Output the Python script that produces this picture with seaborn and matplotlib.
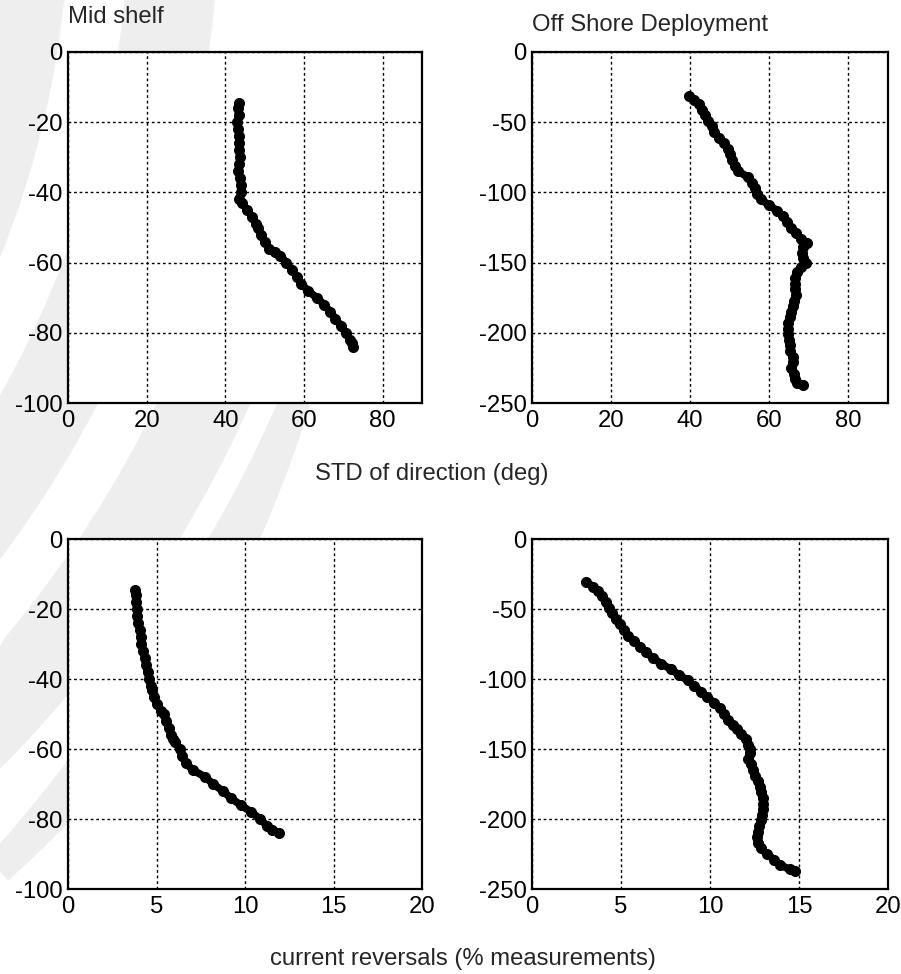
import numpy as np
import pandas as pd
import matplotlib
matplotlib.use("Agg")
import matplotlib.pyplot as plt
from matplotlib.patches import Polygon
import seaborn as sns

# ---------------- data ----------------
mid_depth = [-14.5, -16, -18, -20, -22, -24, -26, -28, -30, -32, -34, -36, -38, -40,
             -42, -43, -45, -47, -49, -50, -52, -54, -56, -57, -58, -60, -62, -64,
             -66, -68, -70, -72, -74, -76, -78, -80, -82, -83, -84]
mid_std = [43.6, 43.2, 43.4, 43.0, 43.3, 43.4, 43.5, 43.4, 43.8, 43.6, 43.2, 43.8, 43.9, 44.0,
           43.6, 44.2, 45.6, 46.8, 47.8, 48.4, 49.0, 50.0, 51.2, 52.5, 54.0, 55.5, 57.0, 58.2,
           59.3, 61.0, 63.2, 65.2, 66.6, 68.0, 69.4, 70.6, 71.8, 72.3, 72.5]
mid_rev = [3.80, 3.82, 3.86, 3.88, 3.90, 3.95, 4.07, 4.10, 4.15, 4.25, 4.33, 4.40, 4.50, 4.57,
           4.68, 4.72, 4.85, 5.00, 5.25, 5.40, 5.55, 5.70, 5.83, 5.95, 6.05, 6.30, 6.45, 6.65,
           7.05, 7.75, 8.20, 8.75, 9.20, 9.75, 10.35, 10.85, 11.25, 11.50, 11.90]

off_depth = [-31, -34, -37, -41, -45, -49, -53, -57, -61, -65, -69, -73, -77, -81, -85,
             -89, -93, -97, -101, -105, -109, -113, -117, -121, -125, -129, -133, -136,
             -139, -143, -147, -150, -153, -157, -161, -165, -169, -173, -177, -181, -185,
             -189, -193, -197, -201, -205, -209, -213, -217, -221, -225, -229, -233, -236, -237]
off_std = [39.8, 41.0, 42.3, 43.0, 43.8, 44.6, 45.4, 46.0, 47.4, 48.5, 49.5, 50.0, 50.6, 51.2, 52.2,
           54.5, 55.6, 56.5, 57.0, 58.0, 59.8, 62.0, 63.5, 64.4, 65.4, 66.8, 68.0, 69.5,
           68.6, 68.3, 68.6, 69.2, 68.0, 67.0, 66.5, 66.4, 66.6, 66.7, 66.2, 66.0, 65.6,
           65.2, 64.8, 64.6, 64.8, 65.0, 65.1, 65.2, 66.0, 65.9, 65.6, 66.2, 66.6, 67.0, 68.5]
off_rev = [3.05, 3.45, 3.70, 3.95, 4.15, 4.35, 4.52, 4.72, 4.94, 5.15, 5.40, 5.75, 6.05, 6.40, 6.80,
           7.25, 7.80, 8.25, 8.75, 9.10, 9.50, 9.85, 10.25, 10.55, 10.80, 11.00, 11.30, 11.50,
           11.75, 12.00, 12.15, 12.25, 12.22, 12.15, 12.30, 12.40, 12.55, 12.70, 12.80, 12.88, 12.95,
           13.00, 12.98, 12.92, 12.85, 12.75, 12.68, 12.62, 12.70, 12.85, 13.20, 13.60, 13.95, 14.50, 14.80]

titles = ["Mid shelf", "Off Shore Deployment"]
std_xticks = [0, 20, 40, 60, 80]
rev_xticks = [0, 5, 10, 15, 20]
mid_yticks = [-100, -80, -60, -40, -20, 0]
off_yticks = [-250, -200, -150, -100, -50, 0]
xlabel_top = "STD of direction (deg)"
xlabel_bottom = "current reversals (% measurements)"

# ---------------- style ----------------
sns.set_style("white")
plt.rcParams['font.family'] = ['Liberation Sans', 'DejaVu Sans']
FS = 17.2

W, H = 901, 974
fig = plt.figure(figsize=(W / 100, H / 100), dpi=100)

# faint background watermark: concentric crescent bands (decoration only)
wm = '#eeeeee'
cx, cy = -871.0, -96.0
# (mid radius, full width, start angle deg, end angle deg, taper span deg)
band_specs = [
    (905, 70, -5, 40, 0),
    (1045, 90, -5, 45, 0),
    (1185, 85, 12, 50, 10),
    (1283, 62, 23, 48, 14),
]
for rm, wd, a0, a1, tap in band_specs:
    th = np.radians(np.linspace(a0, a1, 200))
    if tap > 0:
        w = wd * np.clip((np.degrees(th) - a0) / tap, 0, 1)
    else:
        w = np.full_like(th, wd)
    ro = rm + w / 2
    ri = rm - w / 2
    xo, yo = cx + ro * np.cos(th), cy + ro * np.sin(th)
    xi, yi = cx + ri * np.cos(th[::-1]), cy + ri * np.sin(th[::-1])
    xs = np.concatenate([xo, xi]) / W
    ys = 1 - np.concatenate([yo, yi]) / H
    fig.patches.append(Polygon(np.column_stack([xs, ys]), closed=True,
                               transform=fig.transFigure, facecolor=wm,
                               edgecolor='none', zorder=-10))

boxes = {
    (0, 0): (68, 52, 422, 403),
    (0, 1): (532, 52, 888, 403),
    (1, 0): (68, 539, 422, 889),
    (1, 1): (532, 539, 888, 889),
}

panels = {
    (0, 0): (mid_std, mid_depth, (0, 90), std_xticks, (-100, 0), mid_yticks),
    (0, 1): (off_std, off_depth, (0, 90), std_xticks, (-250, 0), off_yticks),
    (1, 0): (mid_rev, mid_depth, (0, 20), rev_xticks, (-100, 0), mid_yticks),
    (1, 1): (off_rev, off_depth, (0, 20), rev_xticks, (-250, 0), off_yticks),
}

for key, (x0, y0, x1, y1) in boxes.items():
    ax = fig.add_axes([x0 / W, 1 - y1 / H, (x1 - x0) / W, (y1 - y0) / H])
    ax.set_facecolor('white')
    xv, yv, xlim, xt, ylim, yt = panels[key]
    df = pd.DataFrame({'x': xv, 'y': yv})
    sns.lineplot(data=df, x='x', y='y', sort=False, estimator=None, ax=ax,
                 color='black', linewidth=5.5, marker='o', markersize=7.2,
                 markeredgecolor='black', markerfacecolor='black', zorder=3)
    ax.set_xlim(*xlim)
    ax.set_ylim(*ylim)
    ax.set_xticks(xt)
    ax.set_yticks(yt)
    ax.set_xticklabels([str(v) for v in xt])
    ax.set_yticklabels([str(v) for v in yt])
    ax.set_xlabel('')
    ax.set_ylabel('')
    ax.grid(True, color='black', linestyle=(0, (2, 2)), linewidth=1.0)
    ax.set_axisbelow(True)
    ax.tick_params(direction='in', length=3, width=1, labelsize=FS, pad=4,
                   colors='black')
    ax.tick_params(axis='x', pad=5)
    for s in ax.spines.values():
        s.set_visible(True)
        s.set_color('black')
        s.set_linewidth(1.6)

fig.text(68 / W, 1 - 17 / H, titles[0], fontsize=FS, ha='left', va='center')
fig.text(532 / W, 1 - 25 / H, titles[1], fontsize=FS, ha='left', va='center')
fig.text(432 / W, 1 - 474 / H, xlabel_top, fontsize=FS, ha='center', va='center')
fig.text(463 / W, 1 - 959 / H, xlabel_bottom, fontsize=FS, ha='center', va='center')

fig.savefig('out.png', dpi=100, facecolor='white')
